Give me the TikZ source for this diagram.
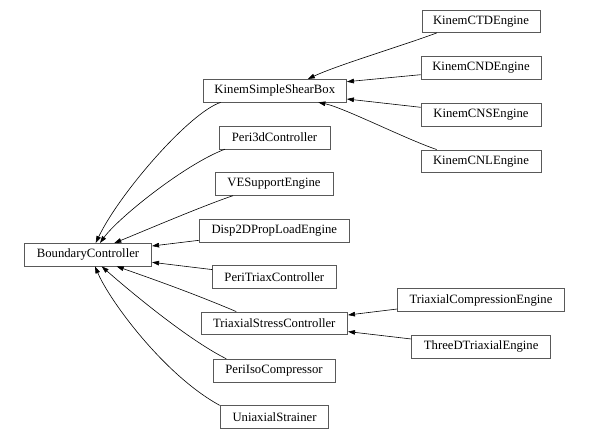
\documentclass[tikz,border=0pt]{standalone}
\usepackage{fontspec}
\setmainfont{Liberation Serif}
\usetikzlibrary{arrows.meta}
\begin{document}
\begin{tikzpicture}[x=1pt,y=-1pt,
  cls/.style={draw=black!65, line width=0.7pt, fill=white, inner sep=0pt,
    minimum height=22.7pt, font=\fontsize{12.7}{15}\selectfont},
  inh/.style={draw=black, line width=0.6pt, -{Triangle[length=7pt,width=4.6pt]}}]
\useasboundingbox (0,0) rectangle (589,439);
% left column
\node[cls, minimum width=127.4pt] (bc) at (88,254.7) {BoundaryController};
% middle column
\node[cls, minimum width=143.5pt] (kssb) at (274.8,90.7) {KinemSimpleShearBox};
\node[cls, minimum width=111pt] (p3d) at (274.5,137.5) {Peri3dController};
\node[cls, minimum width=118pt] (ves) at (274,184) {VESupportEngine};
\node[cls, minimum width=150pt] (d2d) at (274.3,230.7) {Disp2DPropLoadEngine};
\node[cls, minimum width=123.3pt] (ptc) at (274.3,277) {PeriTriaxController};
\node[cls, minimum width=146.7pt] (tsc) at (274.3,323.3) {TriaxialStressController};
\node[cls, minimum width=122pt] (pic) at (274,370.5) {PeriIsoCompressor};
\node[cls, minimum width=107.6pt] (uni) at (274.5,417) {UniaxialStrainer};
% right column
\node[cls, minimum width=118.3pt] (ctd) at (481,21.2) {KinemCTDEngine};
\node[cls, minimum width=120pt] (cnd) at (481,68) {KinemCNDEngine};
\node[cls, minimum width=120pt] (cns) at (481,114.7) {KinemCNSEngine};
\node[cls, minimum width=120pt] (cnl) at (481,161.2) {KinemCNLEngine};
\node[cls, minimum width=166.7pt] (tce) at (481,300) {TriaxialCompressionEngine};
\node[cls, minimum width=139pt] (tdt) at (481.2,346.7) {ThreeDTriaxialEngine};
% edges into KinemSimpleShearBox
\draw[inh] ([xshift=15.3pt]ctd.south west) .. controls +(-35,13) and +(30,-14) .. ([xshift=33pt]kssb.north);
\draw[inh] ([yshift=-6.7pt]cnd.west) -- ([yshift=9pt]kssb.east);
\draw[inh] ([yshift=7.4pt]cns.west) -- ([yshift=-8.3pt]kssb.east);
\draw[inh] ([xshift=16pt]cnl.north west) .. controls +(-30,-10) and +(25,5) .. ([xshift=43.5pt]kssb.south);
% edges into TriaxialStressController
\draw[inh] ([yshift=-9pt]tce.west) -- ([yshift=8.3pt]tsc.east);
\draw[inh] ([yshift=7.7pt]tdt.west) -- ([yshift=-8.3pt]tsc.east);
% edges into BoundaryController
\draw[inh] ([xshift=18pt]kssb.south west) .. controls +(-31,10) and +(24,-50) .. ([xshift=7.7pt]bc.north);
\draw[inh] ([xshift=6.3pt]p3d.south west) .. controls +(-40,15) and +(18,-25) .. ([xshift=12pt]bc.north);
\draw[inh] ([xshift=18.3pt]ves.south west) .. controls +(-30,10) and +(20,-8) .. ([xshift=26.3pt]bc.north);
\draw[inh] ([yshift=-9.6pt]d2d.west) -- ([yshift=8.7pt]bc.east);
\draw[inh] ([yshift=7.4pt]ptc.west) -- ([yshift=-7.6pt]bc.east);
\draw[inh] ([xshift=35.7pt]tsc.north west) .. controls +(-40,-17) and +(40,14) .. ([xshift=28.7pt]bc.south);
\draw[inh] ([xshift=13.7pt]pic.north west) .. controls +(-40,-20) and +(25,22) .. ([xshift=13.7pt]bc.south);
\draw[inh] ([xshift=-0.7pt]uni.north west) .. controls +(-55,-30) and +(15,35) .. ([xshift=7pt]bc.south);
\end{tikzpicture}
\end{document}
